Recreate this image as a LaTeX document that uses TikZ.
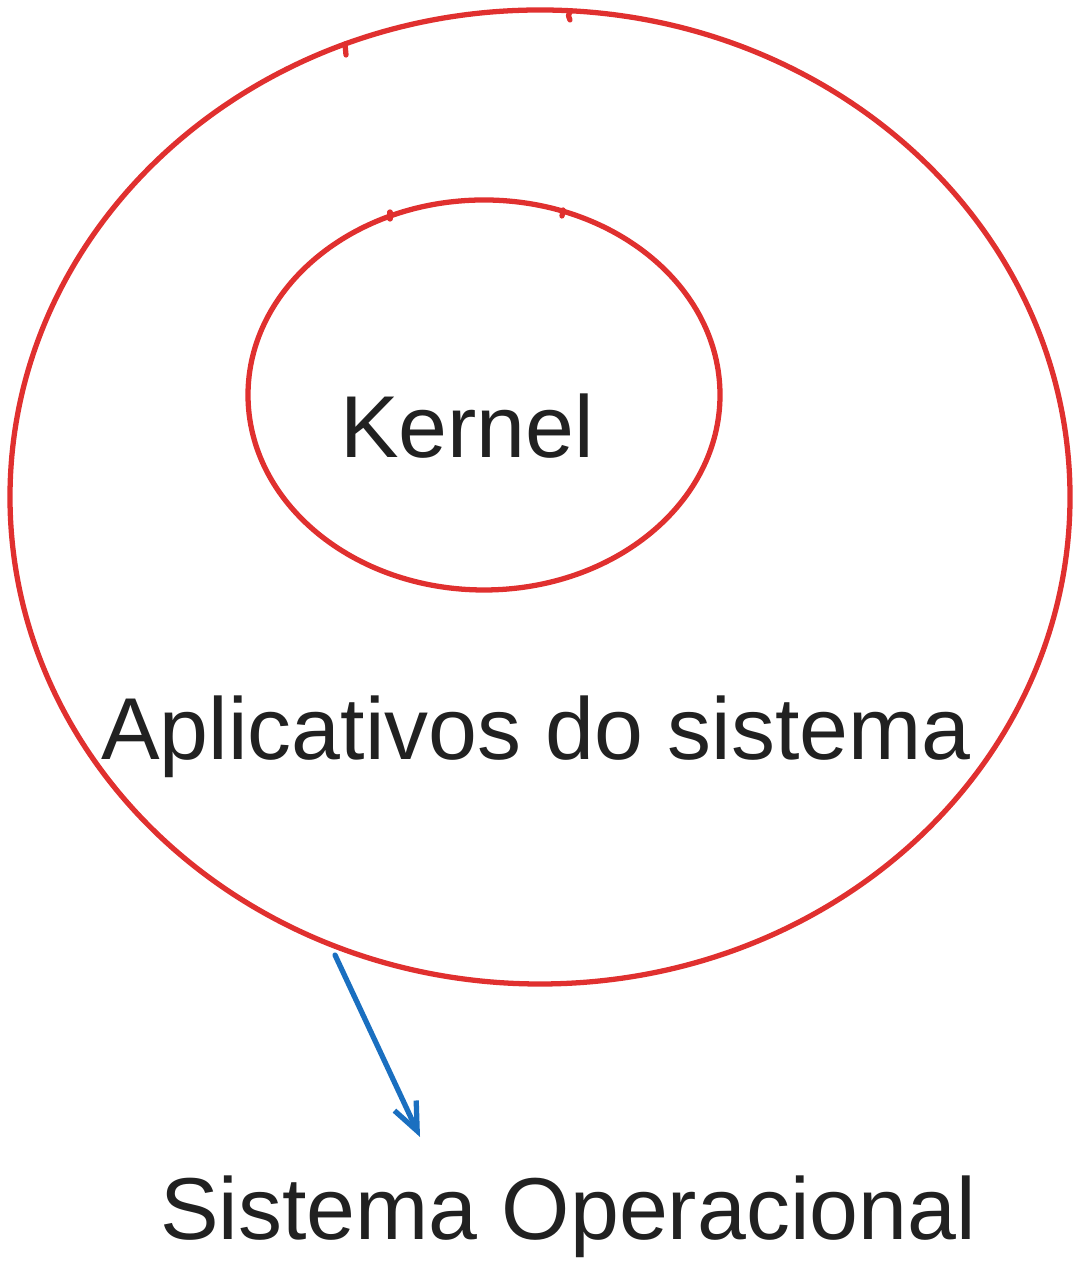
\documentclass[tikz,border=0pt]{standalone}
\usepackage{fontspec}
\setmainfont{Liberation Sans}
\usetikzlibrary{positioning}
\usetikzlibrary{arrows.meta}
\definecolor{ringred}{HTML}{E0302F}
\definecolor{arrowblue}{HTML}{1A6FC0}
\definecolor{textgray}{HTML}{212121}
\tikzset{>={Straight Barb[length=2.8mm,width=2.4mm]}, font=\fontsize{25}{25}\selectfont}
\tikzstyle{ring} = [draw=ringred, line width=1.5pt, line join=round, line cap=round]
\tikzstyle{label} = [text=textgray, inner sep=0pt, anchor=base]
\tikzstyle{pointer} = [draw=arrowblue, line width=1.5pt, line cap=round, ->]

\begin{document}
\begin{tikzpicture}
    \useasboundingbox (0,0) rectangle (10.8,12.65);

    % outer ring
    \draw [ring] (5.40,7.68) ellipse [x radius=5.30, y radius=4.87];
    \draw [ring] (3.45,12.21) -- (3.46,12.10);
    \draw [ring] (5.70,12.53) .. controls (5.68,12.50) .. (5.70,12.45);
    % inner ring
    \draw [ring] (4.84,8.70) ellipse [x radius=2.36, y radius=1.95];
    \draw [ring] (3.90,10.53) -- (3.90,10.46);
    \draw [ring] (5.63,10.55) -- (5.62,10.49);

    \node [label] (kernel) at (4.67,8.07) {Kernel};
    \node [label] (apps) at (5.36,5.05) {Aplicativos do sistema};
    \node [label] (sysop) at (5.68,0.25) {Sistema Operacional};

    \coordinate (ringedge) at (3.35,3.10);
    \coordinate (sysoptip) at (4.20,1.28);
    \draw [pointer] (ringedge) -- (sysoptip);
\end{tikzpicture}
\end{document}
